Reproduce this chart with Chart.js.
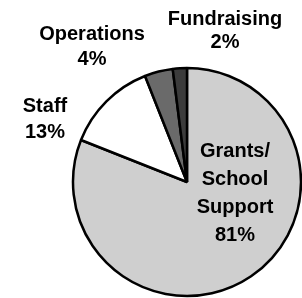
<!DOCTYPE html>
<html>
<head>
<meta charset="utf-8">
<script src="https://cdn.jsdelivr.net/npm/chart.js@4.4.0/dist/chart.umd.min.js"></script>
<style>
  html, body { margin: 0; padding: 0; background: #fff; overflow: hidden; }
  #wrap { width: 302px; height: 298px; position: relative; }
</style>
</head>
<body>
<div id="wrap"><canvas id="chart" width="302" height="298"></canvas></div>
<script>
// ---- DATA ----
const categories = [["Grants/", "School", "Support"], ["Staff"], ["Operations"], ["Fundraising"]];
const values = [81, 13, 4, 2];
const colors = ["#cfcfcf", "#ffffff", "#6a6a6a", "#3c3c3c"];

// where each label block sits (centre x, first baseline, line step)
const labelSpots = [
    { x: 235, y: 157, step: 28 },
    { x: 45, y: 112, step: 26 },
    { x: 92, y: 40, step: 25 },
    { x: 225, y: 25, step: 23 }
];

const pieLabels = {
    id: "pieLabels",
    afterDraw(chart) {
        const ctx = chart.ctx;
        ctx.save();
        ctx.fillStyle = "#000";
        ctx.font = "bold 20px 'Liberation Sans', Arial, sans-serif";
        ctx.textAlign = "center";
        ctx.textBaseline = "alphabetic";
        chart.data.labels.forEach((lab, i) => {
            const spot = labelSpots[i];
            const lines = [...lab, chart.data.datasets[0].data[i] + "%"];
            lines.forEach((t, j) => ctx.fillText(t, spot.x, spot.y + j * spot.step));
        });
        ctx.restore();
    }
};

new Chart(document.getElementById("chart").getContext("2d"), {
    type: "pie",
    data: {
        labels: categories,
        datasets: [{
            data: values,
            backgroundColor: colors,
            borderColor: "#000",
            borderWidth: 2.5
        }]
    },
    options: {
        responsive: false,
        animation: false,
        radius: 114,
        layout: { padding: { left: 72, right: 0, top: 66, bottom: 0 } },
        plugins: { legend: { display: false }, tooltip: { enabled: false } }
    },
    plugins: [pieLabels]
});
</script>
</body>
</html>
